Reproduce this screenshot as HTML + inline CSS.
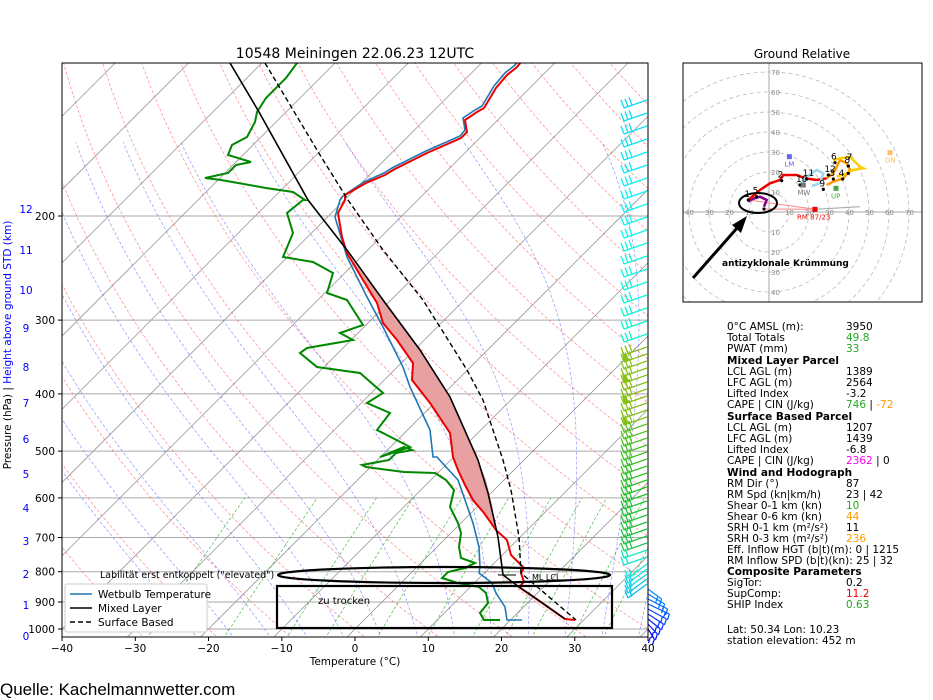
<!DOCTYPE html>
<html><head><meta charset="utf-8"><style>
body{margin:0;background:#fff;width:933px;height:700px;overflow:hidden;font-family:"DejaVu Sans","Liberation Sans",sans-serif}
svg{position:absolute;left:0;top:0}
</style></head><body>
<svg id="s" width="933" height="700" viewBox="0 0 933 700" xmlns="http://www.w3.org/2000/svg" font-family="DejaVu Sans, Liberation Sans, sans-serif">
<defs><clipPath id="c"><rect x="62" y="63" width="586" height="574"/></clipPath>
<clipPath id="hc"><rect x="683" y="63" width="239" height="239"/></clipPath></defs>
<g id="bg" clip-path="url(#c)"></g>
<g clip-path="url(#c)">
<polygon fill="#e8a0a0" stroke="none" points="347,253 363,280 377,303 383,323 397,340 413,363 412,380 430,403 450,433 453,457 458,470 465,485 473,500 484,513 496,530 498,537 492,505 486,480 478,460 450,397 420,350 383,300"/>
<polyline fill="none" stroke="#1f77b4" stroke-width="1.6" points="522,620 507,620 505,607 496,593 492,583 479,573 480,567 479,547 473,523 465,500 458,480 446,467 437,457 433,457 430,430 410,387 403,367 383,327 367,297 347,257 335,217 340,200 343,196 364,182 384,173 392,168 426,151 460,136 465,130 463,118 475,110 482,106 494,86 505,73 515,65 519,60"/>
<polyline fill="none" stroke="#e00" stroke-width="2" points="575,620 565,619 538,600 519,587 524,582 521,573 524,568 511,555 507,540 496,530 484,513 473,500 465,485 458,470 453,457 450,433 430,403 412,380 413,363 397,340 383,323 377,303 363,280 347,253 342,237 338,213 345,200 345,195 366,183 385,175 393,170 427,153 461,138 467,132 465,120 477,112 484,108 496,88 507,75 517,67 521,62"/>
<polyline fill="none" stroke="#080" stroke-width="2" points="500,620 484,620 480,613 488,603 486,593 479,587 458,583 442,578 448,572 465,568 475,563 461,558 459,547 461,533 458,523 450,507 454,490 446,480 435,473 404,472 366,467 362,465 389,460 396,453 412,450 404,447 380,457 410,447 377,430 390,413 367,403 383,393 360,373 317,367 300,353 307,348 353,340 340,333 363,325 347,300 327,293 333,273 313,262 283,257 293,233 287,213 303,200 305,200 293,192 266,188 221,180 205,178 228,173 236,165 251,162 228,155 232,145 247,137 255,122 257,112 266,98 286,78 297,63"/>
<polyline fill="none" stroke="#000" stroke-width="1.6" points="230,63 259,112 308,200 347,250 383,300 420,350 450,397 478,460 488,493 498,537 502,567 503,575 519,587 538,600 565,619"/>
<line x1="498" y1="575" x2="516" y2="575" stroke="#000" stroke-width="1"/>
<polyline fill="none" stroke="#000" stroke-width="1.4" stroke-dasharray="5,3" points="265,63 320,155 348,200 383,250 423,300 467,370 483,400 503,460 511,490 519,537 521,573 576,620"/>
<ellipse cx="444" cy="575" rx="166" ry="8" fill="none" stroke="#000" stroke-width="2.2"/>
<rect x="277" y="586" width="335" height="42" fill="none" stroke="#000" stroke-width="2.2"/>
</g>
<g id="barbs"></g>
<rect x="62" y="63" width="586" height="574" fill="none" stroke="#000" stroke-width="1"/>
<text x="100" y="578" font-size="9.5">Labilität erst entkoppelt ("elevated")</text>
<text x="532" y="580" font-size="8">ML LCL</text>
<text x="318" y="604" font-size="10">zu trocken</text>
<rect x="65" y="584" width="142" height="48" fill="#fff" stroke="#ccc" rx="2"/>
<line x1="70" y1="594" x2="92" y2="594" stroke="#1f77b4" stroke-width="1.6"/><text x="98" y="598" font-size="10.5">Wetbulb Temperature</text>
<line x1="70" y1="608" x2="92" y2="608" stroke="#000" stroke-width="1.6"/><text x="98" y="612" font-size="10.5">Mixed Layer</text>
<line x1="70" y1="622" x2="92" y2="622" stroke="#000" stroke-width="1.4" stroke-dasharray="5,3"/><text x="98" y="626" font-size="10.5">Surface Based</text>
<g font-size="10.5" text-anchor="middle" id="xt"></g>
<text x="355" y="665" font-size="10.5" text-anchor="middle">Temperature (°C)</text>
<g font-size="10.5" text-anchor="end" id="yt"></g>
<g font-size="10.5" fill="#00f" text-anchor="middle" id="kt"></g>
<text transform="translate(11,345) rotate(-90)" font-size="10.5" text-anchor="middle"><tspan>Pressure (hPa)  |  </tspan><tspan fill="#00f">Height above ground STD (km)</tspan></text>
<text x="355" y="58" font-size="14" text-anchor="middle">10548 Meiningen 22.06.23 12UTC</text>
<text x="802" y="58" font-size="12" text-anchor="middle">Ground Relative</text>
<text x="0" y="695" font-size="17" font-family="Liberation Sans, sans-serif">Quelle: Kachelmannwetter.com</text>
<g clip-path="url(#hc)" id="hodo"></g>
<rect x="683" y="63" width="239" height="239" fill="none" stroke="#000"/>
<g font-size="10.5" fill="#000">
<text x="727" y="330">0°C AMSL (m):</text><text x="846" y="330">3950</text>
<text x="727" y="341">Total Totals</text><text x="846" y="341" fill="#2a2">49.8</text>
<text x="727" y="352">PWAT (mm)</text><text x="846" y="352" fill="#2a2">33</text>
<text x="727" y="364" font-weight="bold">Mixed Layer Parcel</text>
<text x="727" y="375">LCL AGL (m)</text><text x="846" y="375">1389</text>
<text x="727" y="386">LFC AGL (m)</text><text x="846" y="386">2564</text>
<text x="727" y="397">Lifted Index</text><text x="846" y="397">-3.2</text>
<text x="727" y="408">CAPE | CIN (J/kg)</text><text x="846" y="408"><tspan fill="#2a2">746</tspan> | <tspan fill="#f90">-72</tspan></text>
<text x="727" y="420" font-weight="bold">Surface Based Parcel</text>
<text x="727" y="431">LCL AGL (m)</text><text x="846" y="431">1207</text>
<text x="727" y="442">LFC AGL (m)</text><text x="846" y="442">1439</text>
<text x="727" y="453">Lifted Index</text><text x="846" y="453">-6.8</text>
<text x="727" y="464">CAPE | CIN (J/kg)</text><text x="846" y="464"><tspan fill="#f0f">2362</tspan> | 0</text>
<text x="727" y="476" font-weight="bold">Wind and Hodograph</text>
<text x="727" y="487">RM Dir (°)</text><text x="846" y="487">87</text>
<text x="727" y="498">RM Spd (kn|km/h)</text><text x="846" y="498">23 | 42</text>
<text x="727" y="509">Shear 0-1 km (kn)</text><text x="846" y="509" fill="#2a2">10</text>
<text x="727" y="520">Shear 0-6 km (kn)</text><text x="846" y="520" fill="#f90">44</text>
<text x="727" y="531">SRH 0-1 km (m²/s²)</text><text x="846" y="531">11</text>
<text x="727" y="542">SRH 0-3 km (m²/s²)</text><text x="846" y="542" fill="#f90">236</text>
<text x="727" y="553">Eff. Inflow HGT (b|t)(m): 0 | 1215</text>
<text x="727" y="564">RM Inflow SPD (b|t)(kn): 25 | 32</text>
<text x="727" y="575" font-weight="bold">Composite Parameters</text>
<text x="727" y="586">SigTor:</text><text x="846" y="586">0.2</text>
<text x="727" y="597">SupComp:</text><text x="846" y="597" fill="#e00">11.2</text>
<text x="727" y="608">SHIP Index</text><text x="846" y="608" fill="#2a2">0.63</text>
<text x="727" y="633">Lat: 50.34  Lon: 10.23</text>
<text x="727" y="644">station elevation: 452 m</text>
</g>
</svg>
<script>
(function(){
var NS="http://www.w3.org/2000/svg";
function Y(p){return 629-256.6*Math.log(1000/p);}
function X(T,p){return 355+7.325*T+(629-Y(p));}
function pl(g,pts,st){var e=document.createElementNS(NS,"polyline");e.setAttribute("points",pts.map(function(a){return a[0].toFixed(1)+","+a[1].toFixed(1)}).join(" "));e.setAttribute("fill","none");for(var k in st)e.setAttribute(k,st[k]);g.appendChild(e);}
function tx(g,x,y,t,a){var e=document.createElementNS(NS,"text");e.setAttribute("x",x);e.setAttribute("y",y);e.textContent=t;if(a)for(var k in a)e.setAttribute(k,a[k]);g.appendChild(e);}
var bg=document.getElementById("bg");
var P=[];for(var p=1040;p>=100;p-=10)P.push(p);
[1000,900,800,700,600,500,400,300,200].forEach(function(p){pl(bg,[[62,Y(p)],[648,Y(p)]],{stroke:"#aaa","stroke-width":1});});
for(var T=-130;T<=40;T+=10)pl(bg,[[X(T,1040),Y(1040)],[X(T,100),Y(100)]],{stroke:"#999","stroke-width":0.8});
for(var th=-30;th<=200;th+=10){var a=[];P.forEach(function(p){a.push([X((th+273.15)*Math.pow(p/1000,0.2857)-273.15,p),Y(p)]);});pl(bg,a,{stroke:"#f55","stroke-width":0.7,"stroke-dasharray":"3,2",opacity:0.7});}
function es(T){return 6.112*Math.exp(17.67*T/(T+243.5));}
for(var T0=-20;T0<=45;T0+=5){var a=[],T=T0;for(var p=1040;p>=150;p-=5){var Tk=T+273.15,rs=0.622*es(T)/(p-es(T));var d=(287*Tk+2.5e6*rs)/(1004+2.5e6*2.5e6*rs*0.622/(287*Tk*Tk))/p;a.push([X(T,p),Y(p)]);T-=d*5;}
pl(bg,a,{stroke:"#66f","stroke-width":0.7,"stroke-dasharray":"3,2",opacity:0.7});}
[0.4,1,2,3,5,8,12,16,20,28,36].forEach(function(w){var a=[];for(var p=1040;p>=600;p-=10){var e=w*p/(622+w),l=Math.log(e/6.112),Td=243.5*l/(17.67-l);a.push([X(Td,p),Y(p)]);}pl(bg,a,{stroke:"#2a2","stroke-width":0.7,"stroke-dasharray":"3,2",opacity:0.8});});
var xt=document.getElementById("xt");
for(var T=-40;T<=40;T+=10){var x=355+7.325*T;pl(xt,[[x,637],[x,641]],{stroke:"#000"});tx(xt,x,652,(T<0?"−":"")+Math.abs(T));}
var yt=document.getElementById("yt");
[1000,900,800,700,600,500,400,300,200].forEach(function(p){pl(yt,[[58,Y(p)],[62,Y(p)]],{stroke:"#000"});tx(yt,55,Y(p)+4,""+p);});
var kt=document.getElementById("kt");
[[0,636],[1,605],[2,574],[3,541],[4,508],[5,474],[6,439],[7,403],[8,367],[9,328],[10,290],[11,250],[12,209]].forEach(function(k){tx(kt,26,k[1]+4,""+k[0]);});
var bb=document.getElementById("barbs");
var y=100;
while(y<=632){
 var col,n;
 if(y<345){col="hsl("+(188-(y-100)*0.08)+",95%,50%)";n=3;}
 else if(y<420){col="hsl(80,80%,42%)";n=3;}
 else if(y<545){col="hsl("+(100+(y-420)*0.3)+",70%,45%)";n=3;}
 else if(y<585){col="hsl("+(165+(y-545)*0.7)+",90%,48%)";n=2;}
 else {col="hsl("+(205+(y-585)*0.8)+",100%,50%)";n=2;}
 if(y<585){
  var x0=647,y0=y,x1=624,y1=y+8;
  if(y>=560){x1=628;y1=y+14;}
  pl(bb,[[x0,y0],[x1,y1]],{stroke:col,"stroke-width":1.3});
  if(y>=345&&y<420&&(y%3==0)){var g=document.createElementNS(NS,"polygon");g.setAttribute("points",x1+","+y1+" "+(x1+6)+","+(y1-2)+" "+(x1-2)+","+(y1-10));g.setAttribute("fill",col);bb.appendChild(g);}
  for(var i=0;i<n;i++){var fx=x1+i*4,fy=y1-i*1.4;pl(bb,[[fx,fy],[fx-3,fy-8]],{stroke:col,"stroke-width":1.3});}
 } else {
  var w=22-Math.abs(y-603)*0.6;
  var x1=648+w, y1=y+10;
  pl(bb,[[648,y],[x1,y1]],{stroke:col,"stroke-width":1.2});
  pl(bb,[[x1,y1],[x1-2,y1+6]],{stroke:col,"stroke-width":1.2});
  pl(bb,[[x1-4,y1-2],[x1-6,y1+4]],{stroke:col,"stroke-width":1.2});
 }
 y+= (y<345?13:(y<560?6.5:4.5));
 y=Math.round(y);
}
var h=document.getElementById("hodo");var cx=769,cy=212,s=2;
for(var r=10;r<=70;r+=10){var c=document.createElementNS(NS,"circle");c.setAttribute("cx",cx);c.setAttribute("cy",cy);c.setAttribute("r",r*s);c.setAttribute("fill","none");c.setAttribute("stroke","#bbb");c.setAttribute("stroke-dasharray","4,3");c.setAttribute("stroke-width","0.8");h.appendChild(c);}
pl(h,[[683,cy],[922,cy]],{stroke:"#aaa"});pl(h,[[cx,63],[cx,302]],{stroke:"#aaa"});
for(var r=10;r<=70;r+=10){tx(h,cx+2,cy-r*s+3,""+r,{"font-size":"7",fill:"#888"});tx(h,cx+2,cy+r*s+3,""+r,{"font-size":"7",fill:"#888"});tx(h,cx+r*s-4,cy+3,""+r,{"font-size":"7",fill:"#888"});tx(h,cx-r*s-4,cy+3,""+r,{"font-size":"7",fill:"#888"});}
function H(a){return a.map(function(q){return [680+q[0]/3,60+q[1]/3];});}
pl(h,H([[205,420],[405,448],[252,447]]),{stroke:"#f88","stroke-width":1});
pl(h,H([[405,448],[540,440]]),{stroke:"#aaa","stroke-width":1.2});
pl(h,H([[205,425],[215,418],[240,410],[260,420],[252,440]]),{stroke:"#808","stroke-width":2.5});
pl(h,H([[205,420],[240,390],[270,370],[300,360],[310,345],[350,345],[375,355],[410,360],[440,355]]),{stroke:"#e00","stroke-width":2.5});
pl(h,H([[360,375],[380,350],[410,330],[430,340],[420,370],[395,378]]),{stroke:"#9cd8ea","stroke-width":2.5});
pl(h,H([[440,355],[460,340],[470,320],[480,300],[500,310],[510,330],[490,355],[460,365],[440,375]]),{stroke:"#f90","stroke-width":2.5});
pl(h,H([[460,300],[480,295],[510,290],[540,320],[550,325],[520,330],[500,340],[470,350]]),{stroke:"#fc0","stroke-width":2.5});
[[205,420,"1"],[230,410,"5"],[305,362,"2"],[380,357,"11"],[360,375,"10"],[430,388,"9"],[445,345,"12"],[460,357,"3"],[488,357,"4"],[465,308,"6"],[505,318,"8"],[505,340,""],[252,447,""]].forEach(function(q){var c=document.createElementNS(NS,"circle");var p=H([[q[0],q[1]]])[0];c.setAttribute("cx",p[0]);c.setAttribute("cy",p[1]);c.setAttribute("r",1.6);h.appendChild(c);if(q[2])tx(h,p[0]-4,p[1]-3,q[2],{"font-size":"9"});});
tx(h,680+500/3,60+300/3,"7",{"font-size":"9"});
function sq(q,col,lab,dx,dy){var p=H([q])[0];var r=document.createElementNS(NS,"rect");r.setAttribute("x",p[0]-2.5);r.setAttribute("y",p[1]-2.5);r.setAttribute("width",5);r.setAttribute("height",5);r.setAttribute("fill",col);h.appendChild(r);tx(h,p[0]+dx,p[1]+dy,lab,{"font-size":"7",fill:col});}
sq([405,448],"#e00","RM 87/23",-18,10);sq([328,290],"#66e","LM",-5,10);sq([630,278],"#fb6","DN",-5,10);sq([468,385],"#4a4","UP",-5,10);sq([370,375],"#777","MW",-6,10);
var e=document.createElementNS(NS,"ellipse");e.setAttribute("cx",758);e.setAttribute("cy",203);e.setAttribute("rx",19);e.setAttribute("ry",10);e.setAttribute("fill","none");e.setAttribute("stroke","#000");e.setAttribute("stroke-width","2");h.appendChild(e);
pl(h,[[693,278],[738,227]],{stroke:"#000","stroke-width":3});
var g=document.createElementNS(NS,"polygon");g.setAttribute("points","747,216 732,225 741,233");h.appendChild(g);
tx(h,722,266,"antizyklonale Krümmung",{"font-size":"9","font-weight":"bold"});
})();
</script>
</body></html>
